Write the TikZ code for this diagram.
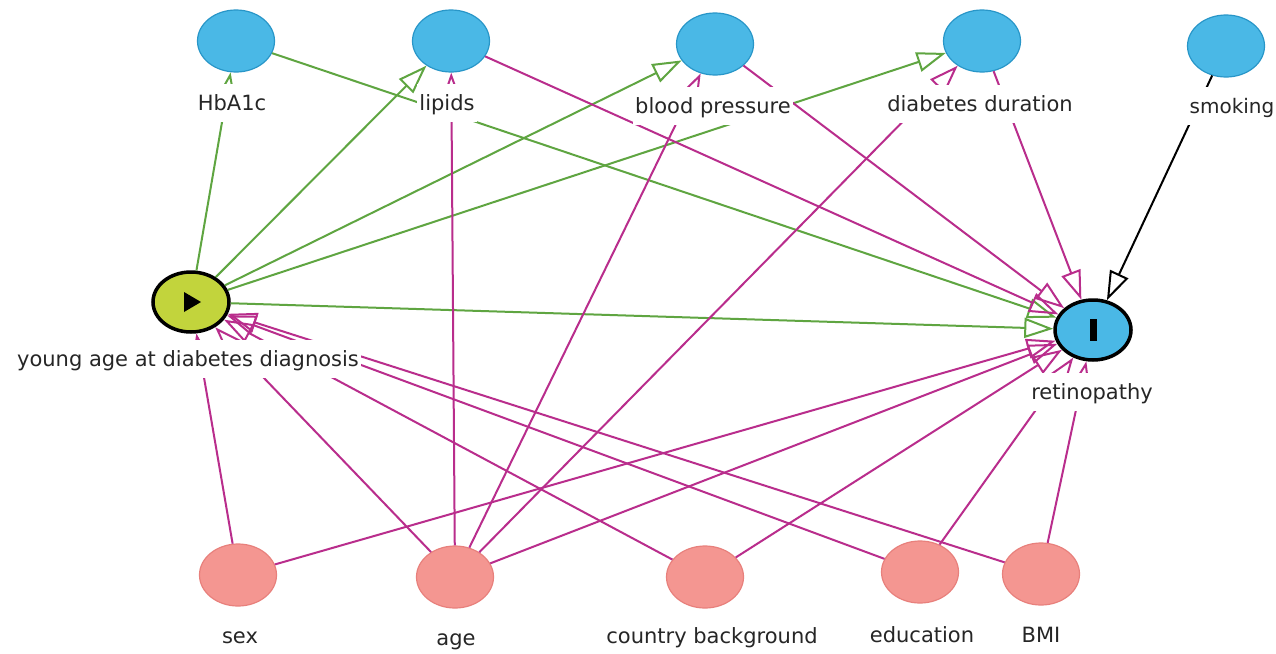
\documentclass[tikz,border=0pt]{standalone}
\usepackage{fontspec}
\setmainfont{DejaVu Sans}
\usetikzlibrary{shapes.geometric,arrows.meta}
\definecolor{nblue}{RGB}{74,184,230}
\definecolor{nblueb}{RGB}{40,150,200}
\definecolor{npink}{RGB}{244,150,145}
\definecolor{npinkb}{RGB}{232,128,124}
\definecolor{nex}{RGB}{194,212,60}
\definecolor{egreen}{RGB}{95,165,65}
\definecolor{emag}{RGB}{185,45,140}
\tikzset{
  base node/.style={ellipse, minimum width=77pt, minimum height=62pt, inner sep=0pt},
  bluenode/.style={base node, fill=nblue, draw=nblueb, line width=1.2pt},
  pinknode/.style={base node, fill=npink, draw=npinkb, line width=1.2pt},
  exnode/.style={base node, minimum width=76pt, minimum height=60pt, fill=nex, draw=black, line width=3.5pt},
  outnode/.style={base node, minimum width=76pt, minimum height=60pt, fill=nblue, draw=black, line width=3.5pt},
  lbl/.style={anchor=base, fill=white, inner xsep=2pt, inner ysep=6pt, text height=20pt, text depth=6pt, text=black!85, font=\fontsize{21}{25}\selectfont},
  edge/.style={line width=2pt, -{Triangle[open, length=29pt, width=20pt, line width=2pt]}},
  gedge/.style={edge, draw=egreen},
  medge/.style={edge, draw=emag},
  kedge/.style={edge, draw=black},
}
\begin{document}
\begin{tikzpicture}[x=1pt,y=-1pt]
\useasboundingbox[fill=white] (0,0) rectangle (1276,653);
% nodes
\node[bluenode] (hba) at (236,41) {};
\node[bluenode] (lip) at (451,41) {};
\node[bluenode] (bp)  at (715,44) {};
\node[bluenode] (dd)  at (982,41) {};
\node[bluenode] (smk) at (1226,46) {};
\node[exnode]   (ya)  at (191,302) {};
\node[outnode]  (ret) at (1093,330) {};
\node[pinknode] (sex) at (238,575) {};
\node[pinknode] (age) at (455,577) {};
\node[pinknode] (cb)  at (705,577) {};
\node[pinknode] (edu) at (920,572) {};
\node[pinknode] (bmi) at (1041,574) {};
% symbols
\fill[black] (ya.center) ++(-7,-10) -- ++(17,10) -- ++(-17,10) -- cycle;
\fill[black] (ret.center) ++(-3.5,-11) rectangle ++(7,22);
% green edges
\draw[gedge] (ya) -- (hba);
\draw[gedge] (ya) -- (lip);
\draw[gedge] (ya) -- (bp);
\draw[gedge] (ya) -- (dd);
\draw[gedge] (ya) -- (ret);
\draw[gedge] (hba) -- (ret);
% magenta edges
\draw[medge] (lip) -- (ret);
\draw[medge] (bp) -- (ret);
\draw[medge] (dd) -- (ret);
\draw[medge] (age) -- (lip);
\draw[medge] (age) -- (bp);
\draw[medge] (age) -- (dd);
\draw[medge] (sex) -- (ya);
\draw[medge] (sex) -- (ret);
\draw[medge] (age) -- (ya);
\draw[medge] (age) -- (ret);
\draw[medge] (cb) -- (ya);
\draw[medge] (cb) -- (ret);
\draw[medge] (edu) -- (ya);
\draw[medge] (edu) -- (ret);
\draw[medge] (bmi) -- (ya);
\draw[medge] (bmi) -- (ret);
% black edge
\draw[kedge] (smk) -- (ret);
% labels
\node[lbl] (lhba) at (232,110) {HbA1c};
\node[lbl] (llip) at (447,110) {lipids};
\node[lbl] (lbp)  at (713,113) {blood pressure};
\node[lbl] (ldd)  at (980,111) {diabetes duration};
\node[lbl, font=\fontsize{20}{24}\selectfont] (lsmk) at (1232,113) {smoking};
\node[lbl] (lya)  at (188,366) {young age at diabetes diagnosis};
\node[lbl] (lret) at (1092,399) {retinopathy};
\node[lbl] (lsex) at (240,643) {sex};
\node[lbl] (lage) at (456,645) {age};
\node[lbl] (lcb)  at (712,643) {country background};
\node[lbl] (ledu) at (922,642) {education};
\node[lbl] (lbmi) at (1041,642) {BMI};
\end{tikzpicture}
\end{document}
